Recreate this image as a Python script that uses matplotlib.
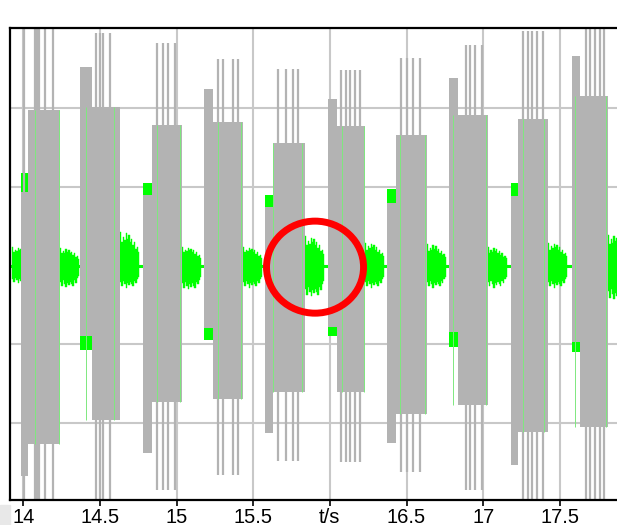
import numpy as np
import matplotlib
matplotlib.use("Agg")
import matplotlib.pyplot as plt
from matplotlib.patches import Ellipse, Rectangle

# ---------------- data (time in s, signal in grid units) ----------------
burst_start = [13.985, 14.370, 14.781, 15.179, 15.577, 15.985, 16.372, 16.775, 17.181, 17.579]
burst_split = [14.031, 14.448, 14.840, 15.237, 15.630, 16.048, 16.431, 16.833, 17.227, 17.631]
burst_end   = [14.239, 14.631, 15.035, 15.433, 15.838, 16.229, 16.633, 17.029, 17.423, 17.814]
lead_top    = [0.94, 2.53, 0.90, 2.25, 0.75, 2.12, 0.79, 2.38, 0.89, 2.67]
lead_bot    = [-2.68, -0.90, -2.38, -0.79, -2.13, -0.78, -2.25, -0.85, -2.53, -0.97]
main_top    = [1.98, 2.02, 1.79, 1.82, 1.56, 1.78, 1.66, 1.92, 1.86, 2.15]
main_bot    = [-2.27, -1.96, -1.74, -1.70, -1.61, -1.61, -1.89, -1.77, -2.12, -2.05]
green_lead_top = [1.18, 2.53, 1.05, 2.25, 0.90, 2.12, 0.97, 2.38, 1.05, 2.67]
green_lead_bot = [-2.68, -1.07, -2.38, -0.94, -2.13, -0.89, -2.25, -1.03, -2.53, -1.10]
spike_times = [
    [14.005, 14.076, 14.089, 14.102, 14.142, 14.194],
    [14.474, 14.500, 14.520, 14.566],
    [14.872, 14.911, 14.944, 14.990],
    [15.270, 15.302, 15.368, 15.400],
    [15.662, 15.714, 15.760, 15.792],
    [16.072, 16.105, 16.131, 16.164, 16.196],
    [16.464, 16.503, 16.542, 16.588],
    [16.887, 16.914, 16.946, 16.992],
    [17.260, 17.292, 17.318, 17.351, 17.390],
    [17.670, 17.696, 17.729, 17.761, 17.787],
]
spike_up = [3.2, 2.96, 2.83, 2.63, 2.50, 2.49, 2.64, 2.80, 2.98, 3.2]
spike_dn = [-3.2, -3.2, -2.85, -2.66, -2.49, -2.50, -2.63, -2.85, -3.2, -3.2]
green_line_times = [14.076, 14.23, 14.41, 14.59, 14.87, 15.02, 15.27, 15.42,
                    15.63, 15.82, 16.08, 16.22, 16.46, 16.62, 16.80, 17.02,
                    17.26, 17.40, 17.60, 17.80]

gap_start   = [13.926, 14.239, 14.631, 15.035, 15.433, 15.838, 16.229, 16.633, 17.029, 17.423, 17.814]
gap_peak_up = [0.24, 0.22, 0.43, 0.24, 0.24, 0.37, 0.29, 0.27, 0.23, 0.29, 0.39]
gap_peak_dn = [0.22, 0.27, 0.28, 0.30, 0.28, 0.39, 0.28, 0.28, 0.28, 0.28, 0.43]
noise_profile_up = [1.0, 0.7, 0.85, 0.75, 0.95, 0.8, 0.9, 0.7, 0.8, 0.6, 0.7, 0.5, 0.55, 0.4]
noise_profile_dn = [0.75, 0.95, 0.7, 0.85, 1.0, 0.8, 0.9, 0.75, 0.85, 0.95, 0.7, 0.8, 0.6, 0.5]
noise_dt = 0.009

x_ticks = [14, 14.5, 15, 15.5, 16, 16.5, 17, 17.5]
x_labels = ["14", "14.5", "15", "15.5", "t/s", "16.5", "17", "17.5"]
y_grid = [-2, -1, 0, 1, 2]
x_lim = (13.913, 17.873)
y_lim = (-2.98, 3.02)
circle_center = (15.903, -0.02)
circle_size = (0.633, 1.17)

GRAY = "#b3b3b3"
GREEN = "#00ff00"

# ---------------- figure ----------------
fig = plt.figure(figsize=(6.17, 5.25), dpi=100)
ax = fig.add_axes([10 / 617, 25 / 525, 1 - 10 / 617, 472 / 525])
ax.set_xlim(*x_lim)
ax.set_ylim(*y_lim)

# grid
ax.set_axisbelow(True)
for xv in x_ticks:
    ax.axvline(xv, color="#c8c8c8", lw=1.5, zorder=0)
for yv in y_grid:
    ax.axhline(yv, color="#c8c8c8", lw=1.5, zorder=0)

# green baseline
ax.axhline(0, color=GREEN, lw=2.2, zorder=1)

# green noise in gaps
for gs, pu, pd in zip(gap_start, gap_peak_up, gap_peak_dn):
    t = gs + np.arange(len(noise_profile_up) + 1) * noise_dt
    up = np.append(np.array(noise_profile_up) * pu, 0)
    dn = np.append(-np.array(noise_profile_dn) * pd, 0)
    ax.fill_between(t, dn, up, step="post", facecolor=GREEN, edgecolor=GREEN,
                    lw=0.3, zorder=1.5)

# green lead blocks
for s, sp, gt, gb in zip(burst_start, burst_split, green_lead_top, green_lead_bot):
    ax.fill_between([s, sp], [gb, gb], [gt, gt], step="post", color=GREEN, lw=0, zorder=1.6)

# gray bursts
for i in range(len(burst_start)):
    t = [burst_start[i], burst_split[i], burst_end[i]]
    top = [lead_top[i], main_top[i], main_top[i]]
    bot = [lead_bot[i], main_bot[i], main_bot[i]]
    ax.fill_between(t, bot, top, step="post", color=GRAY, lw=0, zorder=2)
    ax.vlines(spike_times[i], spike_dn[i], spike_up[i], color=GRAY, lw=1.6, zorder=2)

# light green traces visible through gray
for i, gt in enumerate(green_line_times):
    b = i // 2
    ax.vlines(gt, main_bot[b], main_top[b], color="#7ee87e", lw=0.7, zorder=2.5)

# red circle
ax.add_patch(Ellipse(circle_center, circle_size[0], circle_size[1], fill=False,
                     edgecolor="#ff0000", lw=5.0, zorder=5))

# axes styling
ax.set_xticks(x_ticks)
ax.set_xticklabels(x_labels, fontfamily="Liberation Sans", fontsize=14.5)
ax.set_yticks(y_grid)
ax.set_yticklabels([])
ax.tick_params(axis="y", length=0)
ax.tick_params(axis="x", length=4, width=1.2, pad=2, direction="out")
for side in ["left", "top", "bottom"]:
    ax.spines[side].set_linewidth(1.6)
    ax.spines[side].set_color("black")
ax.spines["right"].set_visible(False)

fig.patches.append(Rectangle((0, 0), 10 / 617, 20 / 525, transform=fig.transFigure,
                             color="#e8e8e8", zorder=0))

fig.savefig("out.png", dpi=100)
